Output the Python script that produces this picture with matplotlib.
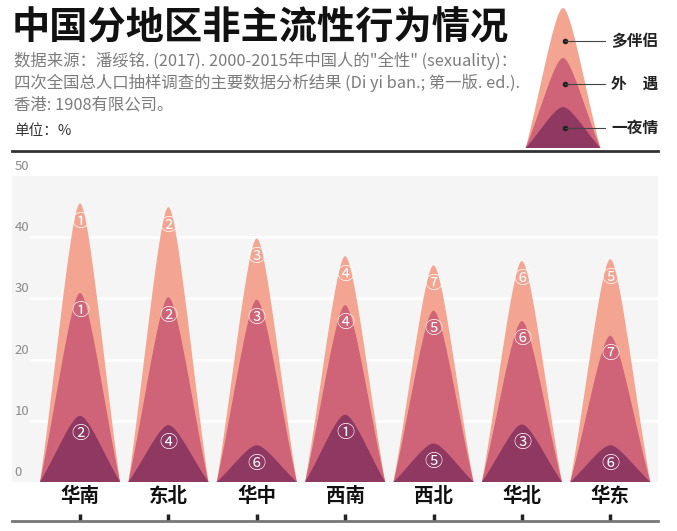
import numpy as np
import matplotlib
matplotlib.use("Agg")
import matplotlib.pyplot as plt

plt.rcParams['font.family'] = ['Noto Sans CJK SC', 'DejaVu Sans']

# data (unit: %)
regions = ['华南', '东北', '华中', '西南', '西北', '华北', '华东']
multi_partner = [45.5, 44.9, 39.8, 36.9, 35.4, 36.1, 36.4]
affair = [30.9, 30.2, 29.8, 28.9, 28.0, 26.3, 23.9]
one_night = [10.8, 9.3, 6.0, 11.0, 6.3, 9.4, 6.0]
rank_multi = ['①', '②', '③', '④', '⑦', '⑥', '⑤']
rank_affair = ['①', '②', '③', '④', '⑤', '⑥', '⑦']
rank_night = ['②', '④', '⑥', '①', '⑤', '③', '⑥']
series_names = ['多伴侣', '外　遇', '一夜情']
colors = ['#f4a592', '#cf6479', '#8f3862']
yticks = [0, 10, 20, 30, 40, 50]

# legend shape heights (px-ish units in legend box)
legend_heights = [140, 90, 41]


def bell(center, h, w=0.453, n=80):
    # cubic bezier from base to peak, mirrored
    t = np.linspace(0, 1, n)
    p = [(1, 0), (0.62, 0.38), (0.22, 1), (0, 1)]
    b = [(1 - t) ** 3, 3 * (1 - t) ** 2 * t, 3 * (1 - t) * t ** 2, t ** 3]
    u = sum(bi * pi[0] for bi, pi in zip(b, p))
    f = sum(bi * pi[1] for bi, pi in zip(b, p))
    xs = np.concatenate([center - u * w, center + u[::-1] * w])
    ys = np.concatenate([f * h, f[::-1] * h])
    return xs, ys


fig = plt.figure(figsize=(6.77, 5.31), dpi=100)
W, H = 677, 531

# main axes: px 12..658, y 176..482
ax = fig.add_axes([12 / W, 1 - 482 / H, 646 / W, 306 / H])
ax.set_facecolor('#f5f5f5')
ax.set_xlim(-0.77, 6.54)
ax.set_ylim(0, 50)
for s in ['top', 'left', 'right']:
    ax.spines[s].set_visible(False)
ax.spines['bottom'].set_position(('outward', 28))
ax.spines['bottom'].set_color('#777777')
ax.spines['bottom'].set_linewidth(2)
ax.set_yticks([])
ax.set_xticks(range(len(regions)))
ax.set_xticklabels([])
ax.tick_params(axis='x', direction='in', length=5, width=2.5, color='#222222')

for v in yticks[1:-1]:
    ax.axhline(v, xmin=0.03, xmax=1, color='white', lw=2, zorder=1)
for v in yticks:
    ax.text(0.004, v + 0.5, str(v), transform=ax.get_yaxis_transform(),
            ha='left', va='bottom', fontsize=9.5, color='#8a8a8a')

x = np.arange(len(regions))
for vals, ranks, col, z in [(multi_partner, rank_multi, colors[0], 2),
                            (affair, rank_affair, colors[1], 3),
                            (one_night, rank_night, colors[2], 4)]:
    for xi, h, r in zip(x, vals, ranks):
        xs, ys = bell(xi, h)
        ax.fill(xs, ys, color=col, lw=0, zorder=z)
        ax.text(xi, h - 3.0, r, ha='center', va='center', fontsize=13,
                color='white', zorder=5)

for xi, name in zip(x, regions):
    ax.text(xi, -2.4, name, ha='center', va='center', fontsize=14,
            fontweight='bold', color='#111111', clip_on=False)

# header
fig.text(12 / W, 1 - 28 / H, '中国分地区非主流性行为情况', fontsize=27.5,
         fontweight='black', color='#111111', va='center', ha='left')
sub = ['数据来源：潘绥铭. (2017). 2000-2015年中国人的"全性" (sexuality)：',
       '四次全国总人口抽样调查的主要数据分析结果 (Di yi ban.; 第一版. ed.).',
       '香港: 1908有限公司。']
for i, line in enumerate(sub):
    fig.text(14 / W, 1 - (61 + 22 * i) / H, line, fontsize=11.8,
             color='#7c7c7c', va='center', ha='left')
fig.text(14 / W, 1 - 131 / H, '单位：%', fontsize=10.5, color='#333333',
         va='center', ha='left')
line = plt.Line2D([12 / W, 658 / W], [1 - 151 / H, 1 - 151 / H],
                  transform=fig.transFigure, color='#333333', lw=2)
fig.add_artist(line)

# legend glyph
lax = fig.add_axes([520 / W, 1 - 150 / H, 86 / W, 150 / H])
lax.set_xlim(-1.15, 1.15)
lax.set_ylim(-2, 148)
lax.axis('off')
for h, col, z in zip(legend_heights, colors, [1, 2, 3]):
    xs, ys = bell(0, h, w=1.0)
    lax.fill(xs, ys, color=col, lw=0, zorder=z)
for name, k in zip(series_names, range(3)):
    yy = legend_heights[k] - (33, 26, 21)[k]
    lax.plot([0.05], [yy], 'o', ms=3, color='#222222', zorder=5)
    lax.plot([0.05, 1.15], [yy, yy], color='#444444', lw=0.8, zorder=5)
    fig.text(611 / W, 1 - (148 - yy) / H, name, fontsize=11.3,
             fontweight='bold', color='#222222', va='center', ha='left')

fig.savefig('out.png', dpi=100)
